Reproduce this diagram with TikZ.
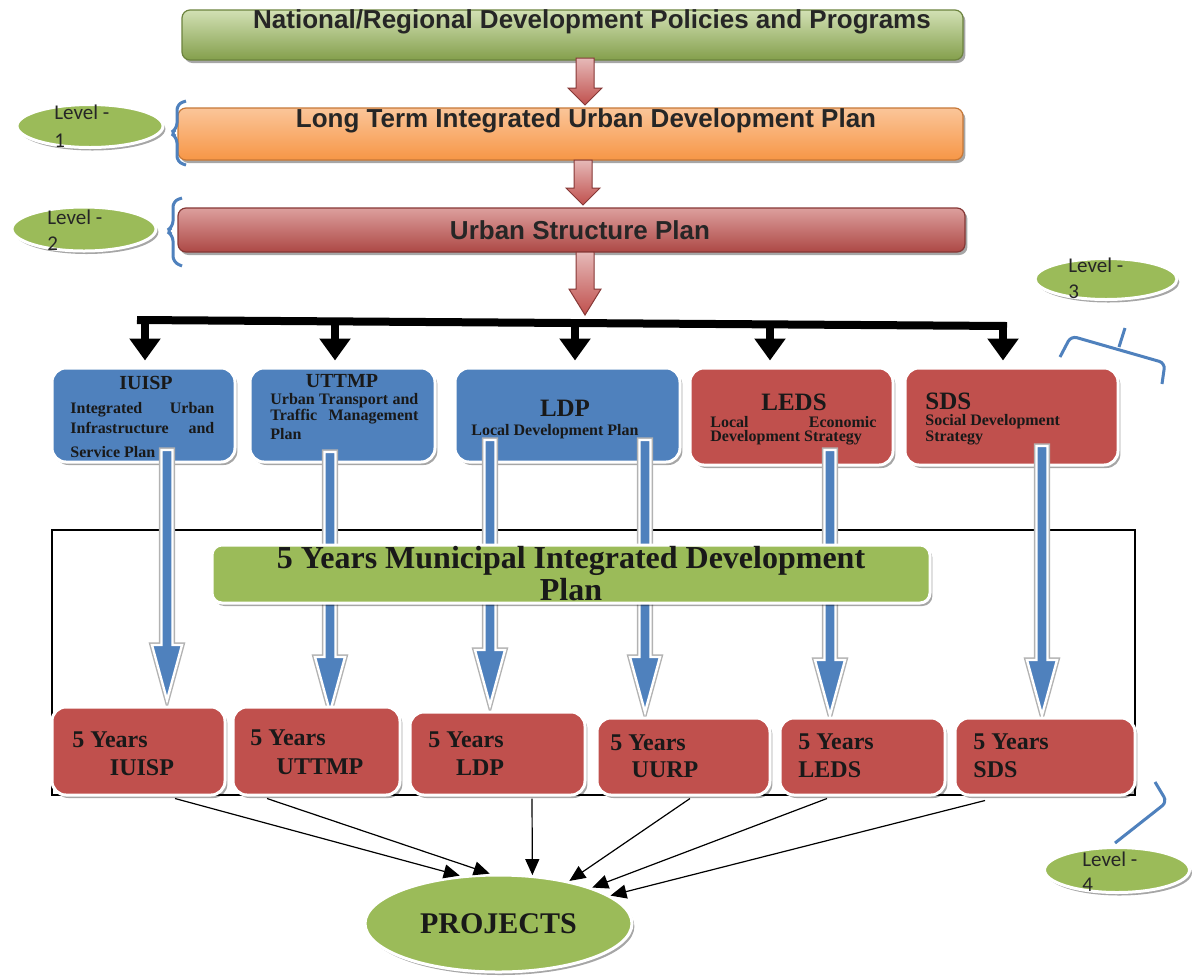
\documentclass[tikz,border=0pt]{standalone}
\usepackage{fontspec}
\setmainfont{Liberation Serif}
\newfontfamily\arialf{Liberation Sans}
\newfontfamily\calfont{Carlito}
\usetikzlibrary{shapes.geometric,shadows,arrows.meta,calc}
\definecolor{ogreen}{HTML}{9BBB59}
\definecolor{oblue}{HTML}{4F81BD}
\definecolor{ored}{HTML}{C0504D}
\definecolor{oorange}{HTML}{F79646}
\tikzset{
 shd/.style={drop shadow={shadow xshift=1.2pt,shadow yshift=-1.5pt,fill=black,opacity=0.35}},
 topbar/.style={rectangle, rounded corners=4pt, line width=0.6pt, shd, inner sep=0pt},
 gbar/.style={topbar, top color=ogreen!45!white, bottom color=ogreen!85!black, draw=ogreen!70!black},
 obar/.style={topbar, top color=oorange!55!white, bottom color=oorange, draw=oorange!80!black},
 rbar/.style={topbar, top color=ored!55!white, bottom color=ored!90!black, draw=ored!70!black},
 pbox/.style={rectangle, rounded corners=7pt, draw=white, line width=1.5pt, shd, inner sep=0pt},
 bbox/.style={pbox, fill=oblue},
 rbox/.style={pbox, fill=ored},
 gbox/.style={pbox, fill=ogreen, rounded corners=5pt},
 lvl/.style={ellipse, fill=ogreen, draw=white, line width=1.5pt, shd, inner sep=0pt},
 bartext/.style={font=\arialf\bfseries\fontsize{13}{15}\selectfont, text=black!85, inner sep=0pt},
 tt/.style={font=\bfseries\fontsize{10}{12}\selectfont, text=black!90, inner sep=0pt},
 bt/.style={font=\bfseries\fontsize{12.5}{14}\selectfont, text=black!90, inner sep=0pt},
 st/.style={font=\bfseries\fontsize{8}{9}\selectfont, text=black!90, inner sep=0pt},
 yt/.style={font=\bfseries\fontsize{12}{14}\selectfont, text=black!90, inner sep=0pt},
 lt/.style={font=\calfont\fontsize{10.5}{12}\selectfont, text=black!85, inner sep=0pt},
 brace/.style={draw=oblue, line width=1.5pt, rounded corners=3pt},
 blkarr/.style={line width=4pt, -{Triangle[width=15pt,length=11pt]}, shorten >=3pt},
 thinarr/.style={line width=0.6pt, -{Triangle[width=7pt,length=8pt]}},
 bluarrow/.style={fill=oblue, draw=white, line width=1.2pt},
 bluout/.style={draw=gray!60, line width=2.6pt},
 redarrow/.style={top color=ored!40!white, bottom color=ored, draw=ored!70!black, line width=0.5pt},
}
\newcommand\bluarr[3]{%
 \path[bluout] (#1-5.5,#2) -- (#1+5.5,#2) -- (#1+5.5,#3-55) -- (#1+15,#3-55) -- (#1,#3) -- (#1-15,#3-55) -- (#1-5.5,#3-55) -- cycle;
 \path[bluarrow] (#1-5.5,#2) -- (#1+5.5,#2) -- (#1+5.5,#3-55) -- (#1+15,#3-55) -- (#1,#3) -- (#1-15,#3-55) -- (#1-5.5,#3-55) -- cycle;}
\newcommand\redarr[5]{% x, ytop, yhead, ytip, head half
 \path[redarrow] (#1-9,#2) -- (#1+9,#2) -- (#1+9,#3) -- (#1+#5,#3) -- (#1,#4) -- (#1-#5,#3) -- (#1-9,#3) -- cycle;}
\begin{document}
\begin{tikzpicture}[x=0.5pt,y=-0.5pt]
\useasboundingbox (0,0) rectangle (1200,976);
\fill[white] (0,0) rectangle (1200,976);
% frame around the 5-year level
\draw[line width=1pt] (52,530) rectangle (1135,795);
% top bars
\node[gbar, minimum width=390.5pt, minimum height=25pt] (nat) at (572.5,35) {};
\node[bartext] (natt) at (592,22) {National/Regional Development Policies and Programs};
\node[obar, minimum width=392.5pt, minimum height=26pt] (ltp) at (570.5,134) {};
\node[bartext] (ltpt) at (586,121) {Long Term Integrated Urban Development Plan};
\node[rbar, minimum width=393.5pt, minimum height=22pt] (usp) at (571.5,230) {};
\node[bartext] (uspt) at (580,230) {Urban Structure Plan};
% red block arrows
\redarr{585}{58}{88}{105}{17}
\redarr{583}{160}{188}{205}{17}
\redarr{585}{252}{289}{315}{16}
% top boxes
\node[bbox, minimum width=91.5pt, minimum height=47pt] (iuisp) at (143.5,415) {};
\node[bbox, minimum width=92.5pt, minimum height=47pt] (uttmp) at (342.5,415) {};
\node[bbox, minimum width=112.5pt, minimum height=47pt] (ldp) at (567.5,415) {};
\node[rbox, minimum width=101.5pt, minimum height=48.5pt] (leds) at (791.5,416.5) {};
\node[rbox, minimum width=106.5pt, minimum height=48.5pt] (sds) at (1011.5,416.5) {};
% black distribution bracket
\coordinate (bk1) at (145,320);
\coordinate (bk2) at (335,321.3);
\coordinate (bk3) at (575,323);
\coordinate (bk4) at (770,324.4);
\coordinate (bk5) at (1003,326);
\draw[line width=4pt] (137,320) -- (1007,326);
\draw[blkarr] (bk1) -- (iuisp.north -| bk1);
\draw[blkarr] (bk2) -- (uttmp.north -| bk2);
\draw[blkarr] (bk3) -- (ldp.north -| bk3);
\draw[blkarr] (bk4) -- (leds.north -| bk4);
\draw[blkarr] (bk5) -- (sds.north -| bk5);
% texts of top boxes
\node[tt] (iuisp1) at (146,383) {IUISP};
\node[st, anchor=west] (iuisp2) at (70,410) {\makebox[72pt][s]{Integrated Urban}};
\node[st, anchor=west] (iuisp3) at (70,428) {\makebox[72pt][s]{Infrastructure and}};
\node[st, anchor=west] (iuisp4) at (70,452) {Service Plan};
\node[tt] (uttmp1) at (342,381) {UTTMP};
\node[st, anchor=west] (uttmp2) at (270,401) {\makebox[74pt][s]{Urban Transport and}};
\node[st, anchor=west] (uttmp3) at (270,417) {\makebox[74pt][s]{Traffic Management}};
\node[st, anchor=west] (uttmp4) at (270,434) {Plan};
\node[bt] (ldp1) at (565,408) {LDP};
\node[st, anchor=west] (ldp2) at (471,432) {Local Development Plan};
\node[bt] (leds1) at (794,402) {LEDS};
\node[st, anchor=west] (leds2) at (710,422) {\makebox[83pt][s]{Local Economic}};
\node[st, anchor=west] (leds3) at (710,438) {Development Strategy};
\node[bt, anchor=west] (sds1) at (925,401) {SDS};
\node[st, anchor=west] (sds2) at (925,422) {Social Development};
\node[st, anchor=west] (sds3) at (925,438) {Strategy};
% blue arrows
\bluarr{167}{450}{700}
\bluarr{330}{452}{712}
\bluarr{490}{440}{705}
\bluarr{645}{440}{712}
\bluarr{830}{450}{715}
\bluarr{1042}{446}{715}
% MIDP bar
\node[gbox, minimum width=359pt, minimum height=29pt, align=center,
  font=\bfseries\fontsize{16}{16}\selectfont, text=black!90] (midp) at (571,574)
  {5 Years Municipal Integrated Development\\Plan};
% bottom boxes
\node[rbox, minimum width=86.5pt, minimum height=44pt] (b1) at (138.5,751) {};
\node[rbox, minimum width=83.5pt, minimum height=44pt] (b2) at (316.5,751) {};
\node[rbox, minimum width=87.5pt, minimum height=41.5pt] (b3) at (497.5,753.5) {};
\node[rbox, minimum width=86.5pt, minimum height=38.5pt] (b4) at (683.5,756.5) {};
\node[rbox, minimum width=82.5pt, minimum height=38.5pt] (b5) at (862.5,756.5) {};
\node[rbox, minimum width=90pt, minimum height=38.5pt] (b6) at (1045,756.5) {};
\node[yt, anchor=west] (b1a) at (72,740) {5 Years};
\node[yt] (b1b) at (142,768) {IUISP};
\node[yt, anchor=west] (b2a) at (250,738) {5 Years};
\node[yt] (b2b) at (320,767) {UTTMP};
\node[yt, anchor=west] (b3a) at (428,740) {5 Years};
\node[yt] (b3b) at (480,768) {LDP};
\node[yt, anchor=west] (b4a) at (610,743) {5 Years};
\node[yt] (b4b) at (665,770) {UURP};
\node[yt, anchor=west] (b5a) at (798,742) {5 Years};
\node[yt, anchor=west] (b5b) at (798,770) {LEDS};
\node[yt, anchor=west] (b6a) at (973,742) {5 Years};
\node[yt, anchor=west] (b6b) at (973,770) {SDS};
% projects
\node[lvl, minimum width=133.5pt, minimum height=48.5pt,
  font=\bfseries\fontsize{15}{17}\selectfont, text=black!90] (proj) at (498.5,923.5) {PROJECTS};
\draw[thinarr] ($(b1.south)+(36.5,2)$) -- (proj.129);
\draw[thinarr] ($(b2.south)+(-49.5,2)$) -- (proj.100);
\draw[thinarr] ($(b3.south)+(34.5,2)$) -- (proj.55);
\draw[thinarr] ($(b4.south)+(6.5,2)$) -- (proj.31);
\draw[thinarr] ($(b5.south)+(-35.5,2)$) -- (proj.21);
\draw[thinarr] ($(b6.south)+(-60,4)$) -- (proj.14);
% levels
\node[lvl, minimum width=73pt, minimum height=21.5pt] (l1) at (90,126) {};
\node[lt, anchor=west] (l1a) at (54,112) {Level -};
\node[lt, anchor=west] (l1b) at (54,141) {1};
\node[lvl, minimum width=72pt, minimum height=22pt] (l2) at (84,229) {};
\node[lt, anchor=west] (l2a) at (47,217) {Level -};
\node[lt, anchor=west] (l2b) at (47,244) {2};
\node[lvl, minimum width=71pt, minimum height=20.5pt] (l3) at (1106,279) {};
\node[lt, anchor=west] (l3a) at (1068,265) {Level -};
\node[lt, anchor=west] (l3b) at (1068,292) {3};
\node[lvl, minimum width=72.5pt, minimum height=22.5pt] (l4) at (1117,870) {};
\node[lt, anchor=west] (l4a) at (1082,859) {Level -};
\node[lt, anchor=west] (l4b) at (1082,885) {4};
% braces
\draw[brace] (186,101) -- (177,104) -- (177,129) -- (170,133) -- (177,137) -- (177,162) -- (186,165);
\draw[brace] (182,198) -- (173,201) -- (173,227) -- (166,231) -- (173,235) -- (173,262) -- (182,266);
\draw[brace] (1060,357) -- (1071,336) -- (1165,363) -- (1162,384);
\draw[brace] (1119,347) -- (1125,328);
\draw[brace] (1155,782) -- (1167,802) -- (1115,843);
\end{tikzpicture}
\end{document}
